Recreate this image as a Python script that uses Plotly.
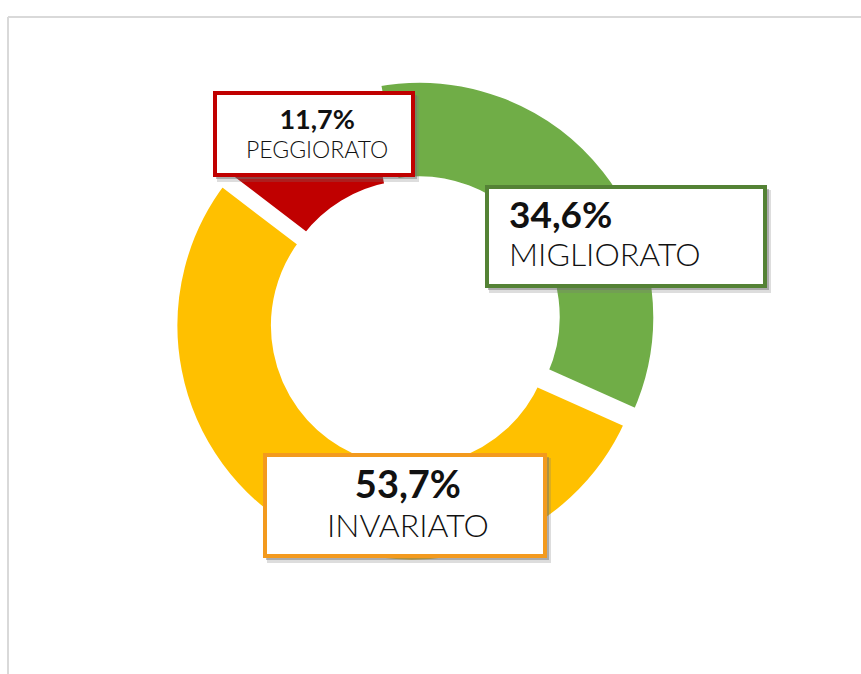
import plotly.graph_objects as go

# Survey outcome shares (percent)
categories = ["MIGLIORATO", "INVARIATO", "PEGGIORATO"]
values = [34.6, 53.7, 11.7]
slice_colors = ["#70AD47", "#FFC000", "#C00000"]
box_colors = ["#548235", "#F39A1E", "#C00000"]

W, H = 861, 674


def px(x):
    return x / W


def py(y):
    return 1 - y / H


def fmt(v):
    return f"{v:.1f}".replace(".", ",") + "%"


# Ring geometry in pixels (slightly exploded slices with white separators)
cx, cy = 414.5, 320.5
gap = 10
explode = 6
r_vis_out = 234
r_vis_in = 140.5
r = r_vis_out + gap / 2
pull = explode / r
half = r * (1 + pull)

fig = go.Figure()
fig.add_trace(go.Pie(
    labels=categories,
    values=values,
    sort=False,
    direction="clockwise",
    rotation=-10.5,
    hole=(r_vis_in - gap / 2) / r,
    pull=[pull, pull, 0],
    marker=dict(colors=slice_colors, line=dict(color="white", width=gap)),
    textinfo="none",
    hoverinfo="label+percent",
    showlegend=False,
    domain=dict(x=[px(cx - half), px(cx + half)],
                y=[py(cy + half), py(cy - half)]),
))

shapes = []
# Panel frame
shapes.append(dict(type="line", xref="paper", yref="paper",
                   x0=px(8), x1=px(W + 5), y0=py(17), y1=py(17),
                   line=dict(color="#D9D9D9", width=2)))
shapes.append(dict(type="line", xref="paper", yref="paper",
                   x0=px(8), x1=px(8), y0=py(17), y1=py(H + 5),
                   line=dict(color="#D9D9D9", width=2)))

# Label boxes: (x0, y0, x1, y1) in pixels, one per category
boxes = {
    "MIGLIORATO": (487, 187, 765, 286),
    "INVARIATO": (265, 455, 545, 556),
    "PEGGIORATO": (215, 93, 413, 175),
}
for cat, col in zip(categories, box_colors):
    x0, y0, x1, y1 = boxes[cat]
    # soft drop shadow
    shapes.append(dict(type="rect", xref="paper", yref="paper", layer="above",
                       x0=px(x0 + 2), x1=px(x1 + 6), y0=py(y0 + 3), y1=py(y1 + 7),
                       fillcolor="rgba(120,120,120,0.25)", line=dict(width=0)))
    shapes.append(dict(type="rect", xref="paper", yref="paper", layer="above",
                       x0=px(x0 + 1), x1=px(x1 + 4), y0=py(y0 + 2), y1=py(y1 + 4),
                       fillcolor="rgba(110,110,110,0.45)", line=dict(width=0)))
    shapes.append(dict(type="rect", xref="paper", yref="paper", layer="above",
                       x0=px(x0), x1=px(x1), y0=py(y0), y1=py(y1),
                       fillcolor="white", line=dict(color=col, width=4)))

FONT = "Lato, 'DejaVu Sans', sans-serif"
annotations = []
val = dict(zip(categories, values))

# two-line labels: (x, y_center, anchor, line size, value size, name size)
text_pos = {
    "PEGGIORATO": (317, 132, "center", 22.5, 27, 23),
    "MIGLIORATO": (507, 232, "left", 29.3, 37, 32),
    "INVARIATO": (408, 502, "center", 30, 38, 32),
}
for cat in categories:
    x, yc, anc, base, sv, sn = text_pos[cat]
    txt = (f"<span style='font-size:{sv}px'><b>{fmt(val[cat])}</b></span><br>"
           f"<span style='font-size:{sn}px'>{cat}</span>")
    annotations.append(dict(xref="paper", yref="paper", x=px(x), y=py(yc),
                            text=txt, showarrow=False, align=anc,
                            xanchor=anc, yanchor="middle",
                            font=dict(family=FONT, size=base, color="#111111",
                                      weight=300)))

fig.update_layout(
    width=W, height=H, autosize=False,
    margin=dict(l=0, r=0, t=0, b=0),
    paper_bgcolor="white", plot_bgcolor="white",
    shapes=shapes, annotations=annotations,
)

fig.write_html("out.html")
